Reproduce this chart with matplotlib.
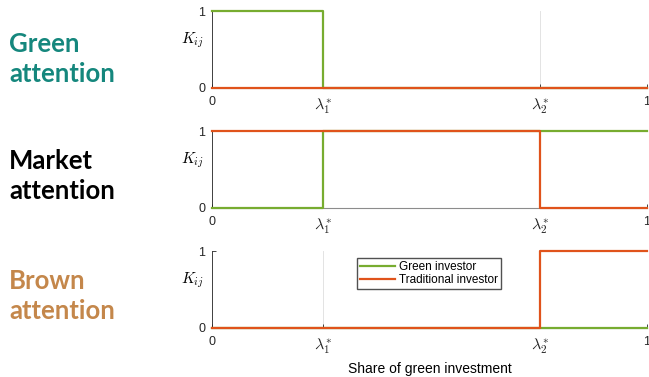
import matplotlib
matplotlib.use('Agg')
import matplotlib.pyplot as plt

plt.rcParams['font.family'] = ['Liberation Sans', 'DejaVu Sans']
plt.rcParams['mathtext.fontset'] = 'cm'

# thresholds on the share of green investment
lam1 = 0.255
lam2 = 0.755
x_breaks = [0, lam1, lam2, 1]
x_ticks = [0, lam1, lam2, 1]
x_ticklabels = ['0', r'$\lambda^{*}_{1}$', r'$\lambda^{*}_{2}$', '1']

# K_ij on the intervals [0,l1), [l1,l2), [l2,1]
panel_names = [['Green', 'attention'], ['Market', 'attention'], ['Brown', 'attention']]
panel_colors = ['#15877d', '#000000', '#c4874b']
green_K = [[1, 0, 0], [0, 1, 1], [0, 0, 0]]
trad_K = [[0, 0, 0], [1, 1, 0], [0, 0, 1]]

green_col = '#77ac30'
trad_col = '#e0531b'

W, H = 649, 377
fig = plt.figure(figsize=(W / 100, H / 100), dpi=100)
bottoms = [0.7666, 0.4483, 0.1300]
# baseline of first line of each side title, in pixels from the top
title_base = [52, 169, 289]

for i in range(3):
    ax = fig.add_axes([0.3267, bottoms[i], 0.670, 0.204])
    gy = green_K[i] + [green_K[i][-1]]
    ty = trad_K[i] + [trad_K[i][-1]]
    ax.step(x_breaks, gy, where='post', color=green_col, lw=1.6,
            label='Green investor', zorder=3, clip_on=False)
    ax.step(x_breaks, ty, where='post', color=trad_col, lw=1.6,
            label='Traditional investor', zorder=4, clip_on=False)

    ax.set_xlim(0, 1)
    ax.set_ylim(0, 1)
    ax.set_xticks(x_ticks)
    ax.set_xticklabels(x_ticklabels, fontsize=9)
    for lab in ax.get_xticklabels()[1:3]:
        lab.set_fontsize(11.5)
    ax.set_yticks([0, 1])
    ax.set_yticklabels(['0', '1'], fontsize=9)
    ax.tick_params(direction='in', length=3, width=0.6, colors='#262626')
    ax.tick_params(axis='x', pad=6)
    ax.tick_params(axis='y', pad=5)
    ax.grid(axis='x', color='#e3e3e3', lw=0.7)
    ax.set_axisbelow(True)
    for side in ['top', 'right']:
        ax.spines[side].set_visible(False)
    ax.spines['left'].set_color('#262626')
    ax.spines['left'].set_linewidth(0.6)
    ax.spines['bottom'].set_color('#8c8c8c')
    ax.spines['bottom'].set_linewidth(0.8)

    ax.text(-0.046, 0.62, r'$K_{ij}$', transform=ax.transAxes,
            ha='center', va='center', fontsize=11)

    for j, line in enumerate(panel_names[i]):
        yb = title_base[i] + 30 * j
        fig.text(9 / W, 1 - yb / H, line, ha='left', va='baseline',
                 fontsize=18.5, fontweight='bold', family='Lato',
                 color=panel_colors[i])

    if i == 2:
        ax.legend(loc='upper left', bbox_to_anchor=(0.333, 0.91), fontsize=8.5,
                  frameon=True, fancybox=False, edgecolor='#262626',
                  borderpad=0.25, handlelength=3.0, handletextpad=0.3,
                  labelspacing=0.1, borderaxespad=0)
        ax.set_xlabel('Share of green investment', fontsize=10, labelpad=4)

fig.savefig('out.png', dpi=100)
